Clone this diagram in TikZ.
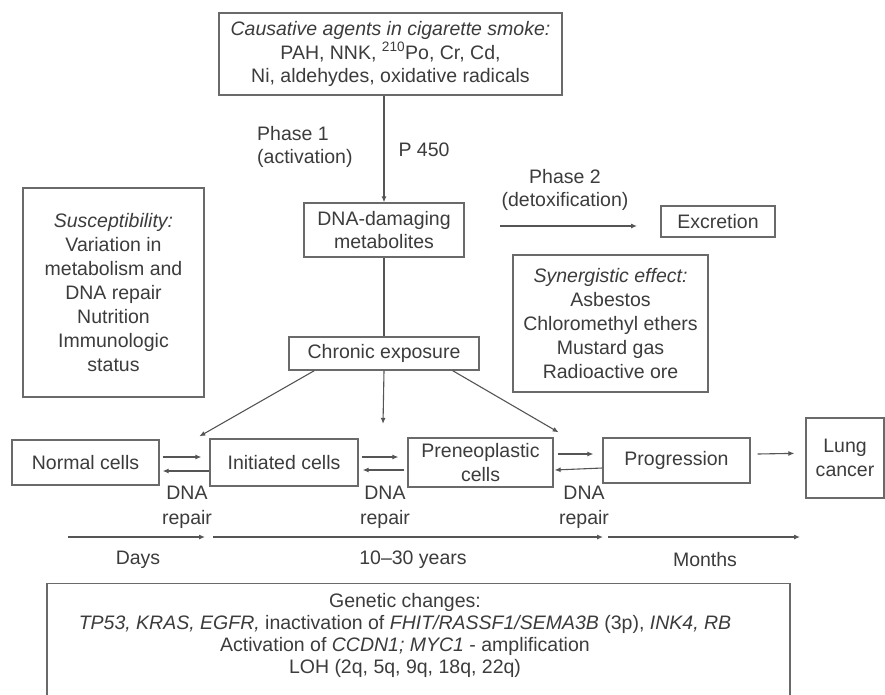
\documentclass[tikz,border=0pt]{standalone}
\usepackage{fontspec}
\setmainfont{Liberation Sans}
\usetikzlibrary{arrows.meta,calc}
\definecolor{ink}{HTML}{3C3C3C}
\definecolor{rule}{HTML}{6A6A6A}
\definecolor{wire}{HTML}{555555}

\begin{document}
\begin{tikzpicture}[x=1pt,y=-1pt,
  every node/.style={text=ink, font=\fontsize{19.5}{23.5}\selectfont},
  box/.style={draw=rule, line width=1.3pt, align=center, inner sep=0pt},
  lbl/.style={align=center, inner sep=0pt},
  arr/.style={draw=wire, line width=1.1pt, -{Latex[length=6pt,width=5pt]}},
  link/.style={draw=wire, line width=1.1pt}]
\clip (0,0) rectangle (885,694);
\fill[white] (0,0) rectangle (885,694);

% upper part: agents and metabolism
\node[box, minimum width=343pt, minimum height=82pt] (agents) at (390.5,54)
  {\textit{Causative agents in cigarette smoke:}\\PAH, NNK, \textsuperscript{210}Po, Cr, Cd,\\Ni, aldehydes, oxidative radicals};
\node[box, minimum width=160pt, minimum height=54pt] (dna) at (384,230)
  {DNA-damaging\\metabolites};
\node[lbl, align=left, anchor=west] (ph1) at (257,147) {Phase 1\\(activation)};
\node[lbl] (p450) at (424,150) {P 450};
\node[lbl] (ph2) at (565,190) {Phase 2\\(detoxification)};
\node[box, minimum width=114pt, minimum height=31pt] (excr) at (718,221.5) {Excretion};
\node[box, minimum width=181pt, minimum height=209pt, font=\fontsize{19.5}{24}\selectfont] (sus) at (113.5,292.5)
  {\textit{Susceptibility:}\\Variation in\\metabolism and\\DNA repair\\Nutrition\\Immunologic\\status};
\node[box, minimum width=195pt, minimum height=137pt, font=\fontsize{19.5}{24}\selectfont] (syn) at (610.5,323.5)
  {\textit{Synergistic effect:}\\Asbestos\\Chloromethyl ethers\\Mustard gas\\Radioactive ore};
\node[box, minimum width=190pt, minimum height=33pt] (chronic) at (384,353.5) {Chronic exposure};

% cell stages
\node[box, minimum width=147pt, minimum height=45pt] (normal) at (85.5,462.5) {Normal cells};
\node[box, minimum width=148pt, minimum height=47pt] (init) at (284,462.5) {Initiated cells};
\node[box, minimum width=145pt, minimum height=49pt] (pre) at (480.5,462.5) {Preneoplastic\\cells};
\node[box, minimum width=147pt, minimum height=45pt] (prog) at (676.5,460.5) {Progression};
\node[box, minimum width=78pt, minimum height=80pt] (lung) at (845,458) {Lung\\cancer};

\node[lbl, font=\fontsize{19.5}{25}\selectfont] (rep1) at (187,507) {DNA\\repair};
\node[lbl, font=\fontsize{19.5}{25}\selectfont] (rep2) at (385,507) {DNA\\repair};
\node[lbl, font=\fontsize{19.5}{25}\selectfont] (rep3) at (584,507) {DNA\\repair};

% time scale
\coordinate (t0) at (68,537);
\coordinate (t1) at (205,537);
\coordinate (t2) at (213,537);
\coordinate (t3) at (603,537);
\coordinate (t4) at (608,537);
\coordinate (t5) at (800,537);
\node[lbl] (days) at (138,560) {Days};
\node[lbl] (years) at (413,560) {10--30 years};
\node[lbl] (months) at (705,560) {Months};

% genetic changes
\node[draw=rule, line width=1.3pt, minimum width=743pt, minimum height=117pt, anchor=north, inner sep=0pt] (gen) at (418.5,583) {};
\node[lbl, anchor=north, font=\fontsize{19.5}{22}\selectfont] (gentext) at (405,593)
  {Genetic changes:\\
   \textit{TP53, KRAS, EGFR,} inactivation of \textit{FHIT/RASSF1/SEMA3B} (3p), \textit{INK4, RB}\\
   Activation of \textit{CCDN1; MYC1} - amplification\\
   LOH (2q, 5q, 9q, 18q, 22q)};

% connectors
\draw[arr] (dna.north |- agents.south) -- (dna.north);
\draw[link] (dna.south) -- (chronic.north);
\coordinate (ph2a) at (500,226);
\coordinate (ph2b) at (637,226);
\draw[arr] (ph2a) -- (ph2b);

\coordinate (hitL) at ([xshift=-10pt,yshift=2pt]init.north west);
\coordinate (hitM) at ($(init.north east)!0.5!(pre.north west)+(0,-14)$);
\coordinate (hitR) at ([xshift=5pt,yshift=5pt]pre.north east);
\draw[arr] ([xshift=26pt]chronic.south west) -- (hitL);
\draw[arr] (chronic.south) -- (hitM);
\draw[arr] ([xshift=-27pt]chronic.south east) -- (hitR);

\draw[arr] ([xshift=3pt,yshift=5.5pt]normal.east) -- ([xshift=-8pt,yshift=5.5pt]init.west);
\draw[arr] ([yshift=-8.5pt]init.west) -- ([xshift=3pt,yshift=-8.5pt]normal.east);
\draw[arr] ([xshift=3pt,yshift=5.5pt]init.east) -- ([xshift=-9pt,yshift=5.5pt]pre.west);
\draw[arr] ([xshift=-3pt,yshift=-7.5pt]pre.west) -- ([xshift=4pt,yshift=-7.5pt]init.east);
\draw[arr] ([xshift=4pt,yshift=8.5pt]pre.east) -- ([xshift=-9pt,yshift=6.5pt]prog.west);
\draw[arr] ([yshift=-7.5pt]prog.west) -- ([xshift=1pt,yshift=-7.5pt]pre.east);
\coordinate (lungin) at ([xshift=-11pt]lung.west |- prog.north);
\draw[arr] ([xshift=7pt,yshift=6.5pt]prog.east) -- ([yshift=-16pt]lungin);

\draw[arr] (t0) -- (t1);
\draw[arr] (t2) -- (t3);
\draw[arr] (t4) -- (t5);
\end{tikzpicture}
\end{document}
